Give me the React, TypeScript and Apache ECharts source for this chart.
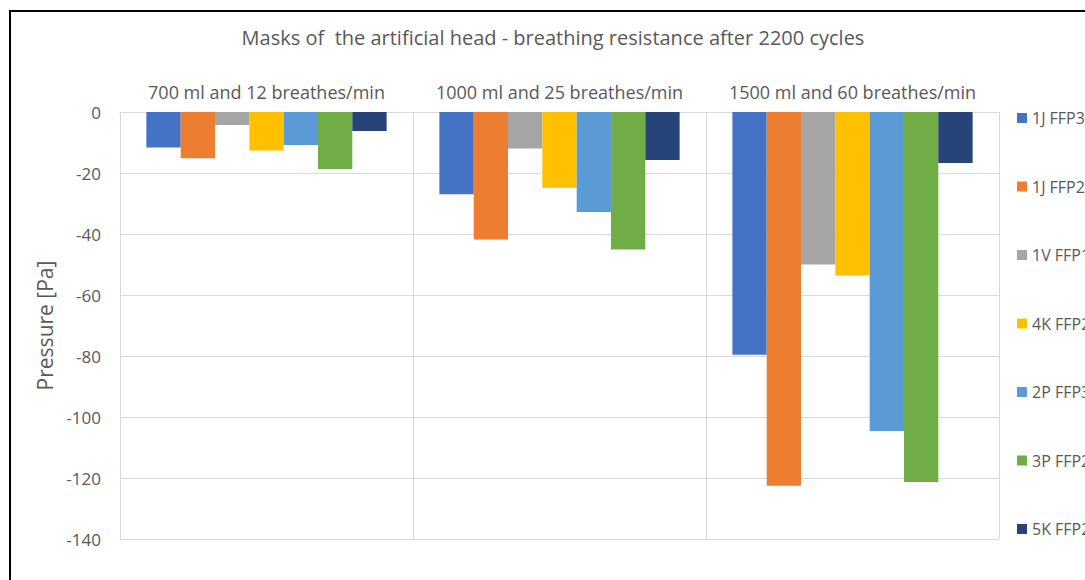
import React, { useEffect, useRef } from "react";
import * as echarts from "echarts";

const categories = [
  "700 ml and 12 breathes/min",
  "1000 ml and 25 breathes/min",
  "1500 ml and 60 breathes/min",
];
const seriesNames = ["1J FFP3", "1J FFP2", "1V FFP1", "4K FFP2", "2P FFP3", "3P FFP2", "5K FFP2"];
const s1J_FFP3 = [-11.6, -27.0, -79.6];
const s1J_FFP2 = [-15.2, -41.8, -122.5];
const s1V_FFP1 = [-4.3, -12.0, -50.0];
const s4K_FFP2 = [-12.6, -24.8, -53.6];
const s2P_FFP3 = [-10.8, -32.8, -104.6];
const s3P_FFP2 = [-18.7, -45.1, -121.3];
const s5K_FFP2 = [-6.2, -15.7, -16.7];
const seriesValues = [s1J_FFP3, s1J_FFP2, s1V_FFP1, s4K_FFP2, s2P_FFP3, s3P_FFP2, s5K_FFP2];
const colors = ["#4472C4", "#ED7D31", "#A5A5A5", "#FFC000", "#5B9BD5", "#70AD47", "#264478"];

const FONT = "'Open Sans', 'Liberation Sans', sans-serif";
const TXT = "#595959";

export default function App() {
  const ref = useRef<HTMLDivElement>(null);
  useEffect(() => {
    if (!ref.current) return;
    const chart = echarts.init(ref.current, undefined, { renderer: "svg" });
    chart.setOption({
      animation: false,
      backgroundColor: "#ffffff",
      title: {
        text: "Masks of  the artificial head - breathing resistance after 2200 cycles",
        left: 548,
        textAlign: "center",
        top: 22,
        textStyle: { fontFamily: FONT, fontSize: 20, fontWeight: "normal", color: TXT },
      },
      legend: {
        orient: "vertical",
        left: 1012,
        top: 105,
        itemWidth: 10,
        itemHeight: 10,
        itemGap: 52.5,
        icon: "rect",
        data: seriesNames,
        textStyle: { fontFamily: FONT, fontSize: 16, color: TXT },
      },
      grid: { left: 120, top: 112, width: 879, height: 427, containLabel: false },
      xAxis: {
        type: "category",
        position: "top",
        data: categories,
        axisLine: { show: true, lineStyle: { color: "#d9d9d9", width: 1 } },
        axisTick: { show: false },
        splitLine: { show: true, lineStyle: { color: "#d9d9d9", width: 1 } },
        axisLabel: { fontFamily: FONT, fontSize: 18, color: TXT, margin: 11, interval: 0 },
      },
      yAxis: {
        type: "value",
        min: -140,
        max: 0,
        interval: 20,
        name: "Pressure [Pa]",
        nameLocation: "middle",
        nameGap: 62,
        nameRotate: 90,
        nameTextStyle: { fontFamily: FONT, fontSize: 21, color: TXT },
        axisLine: { show: false },
        axisTick: { show: false },
        splitLine: { show: true, lineStyle: { color: "#d9d9d9", width: 1 } },
        axisLabel: { fontFamily: FONT, fontSize: 17, color: TXT, margin: 19 },
      },
      series: seriesNames.map((name, i) => ({
        name,
        type: "bar",
        data: seriesValues[i],
        barGap: "0%",
        barCategoryGap: "18%",
        itemStyle: { color: colors[i] },
      })),
      graphic: [
        {
          type: "rect",
          shape: { x: 10, y: 11, width: 1200, height: 700 },
          style: { fill: "none", stroke: "#000000", lineWidth: 2 },
          silent: true,
          z: 100,
        },
      ],
    });
    return () => chart.dispose();
  }, []);
  return (
    <div
      ref={ref}
      style={{ position: "fixed", left: 0, top: 0, width: 1085, height: 580 }}
    />
  );
}
